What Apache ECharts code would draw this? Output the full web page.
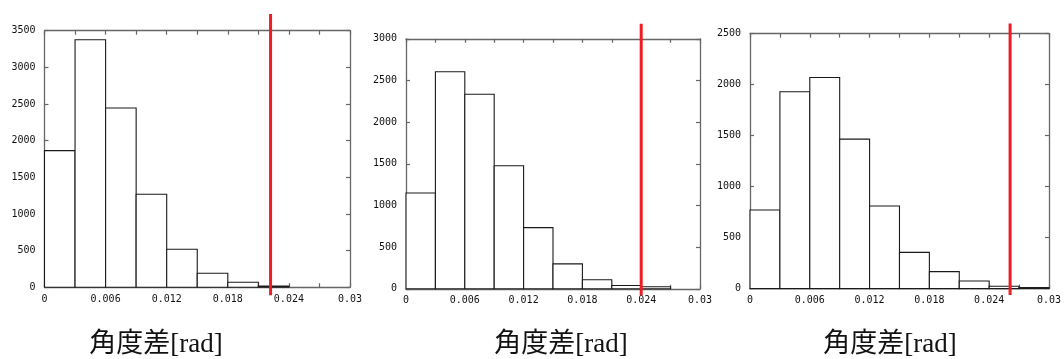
<!DOCTYPE html>
<html>
<head>
<meta charset="utf-8">
<script src="https://cdn.jsdelivr.net/npm/echarts@6/dist/echarts.min.js"></script>
<style>html,body{margin:0;padding:0;background:#fff;}#c{width:1064px;height:359px;}</style>
</head>
<body>
<div id="c"></div>
<script>
// ---- data ----
const binEdges = [0, 0.003, 0.006, 0.009, 0.012, 0.015, 0.018, 0.021, 0.024, 0.027, 0.03];
const counts1 = [1864, 3377, 2445, 1268, 518, 191, 68, 14];
const counts2 = [1149, 2605, 2334, 1476, 734, 299, 108, 40, 24];
const counts3 = [771, 1930, 2070, 1465, 810, 355, 166, 75, 23, 10];
const thresholds = [0.0222, 0.0240, 0.0261];
const redTop = [3728, 3180, 2598];
const redBottom = [-109, -76, -62];
const yMax = [3500, 3000, 2500];
const yInterval = 500;
const xMin = 0, xMax = 0.03, xInterval = 0.003;
const xTickLabels = ['0', '0.006', '0.012', '0.018', '0.024', '0.03'];
const xlabelText = '角度差[rad]';

const allCounts = [counts1, counts2, counts3];
const grids = [
  {left: 44.5, top: 30.7, width: 305.5, height: 256.5},
  {left: 406, top: 38.8, width: 294, height: 250},
  {left: 750, top: 33.6, width: 302, height: 255}
];
const titleCenters = [156, 561, 890];

const frameColor = '#666';
const tickFont = {fontFamily: "'DejaVu Sans Mono'", fontSize: 10, color: '#111'};

function frameAxis(extra) {
  return Object.assign({
    type: 'value',
    axisLine: {show: true, onZero: false, lineStyle: {color: frameColor, width: 1.3}},
    axisTick: {show: true, inside: true, length: 4, lineStyle: {color: frameColor, width: 1.2}},
    splitLine: {show: false}
  }, extra);
}

const xAxes = [], yAxes = [], series = [], graphics = [];
grids.forEach((g, i) => {
  xAxes.push(frameAxis({
    gridIndex: i, min: xMin, max: xMax, interval: xInterval, position: 'bottom',
    axisLabel: Object.assign({
      margin: 7,
      showMinLabel: true, showMaxLabel: true,
      formatter: v => {
        const k = Math.round(v / xInterval);
        return k % 2 === 0 ? (xTickLabels[k / 2] || '') : '';
      }
    }, tickFont)
  }));
  xAxes.push(frameAxis({
    gridIndex: i, min: xMin, max: xMax, interval: xInterval, position: 'top',
    axisLabel: {show: false}
  }));
  yAxes.push(frameAxis({
    gridIndex: i, min: 0, max: yMax[i], interval: yInterval, position: 'left',
    axisLabel: Object.assign({margin: 9, formatter: v => String(v)}, tickFont)
  }));
  yAxes.push(frameAxis({
    gridIndex: i, min: 0, max: yMax[i], interval: yInterval, position: 'right',
    axisLabel: {show: false}
  }));
  const data = allCounts[i].map((c, k) => [binEdges[k], binEdges[k + 1], c]);
  series.push({
    type: 'custom', xAxisIndex: 2 * i, yAxisIndex: 2 * i,
    data: data,
    renderItem: (params, api) => {
      const p0 = api.coord([api.value(0), api.value(2)]);
      const p1 = api.coord([api.value(1), 0]);
      return {
        type: 'rect',
        shape: {x: p0[0], y: p0[1], width: p1[0] - p0[0], height: p1[1] - p0[1]},
        style: {fill: '#fff', stroke: '#1a1a1a', lineWidth: 1.1}
      };
    },
    z: 2
  });
  series.push({
    type: 'line', xAxisIndex: 2 * i, yAxisIndex: 2 * i,
    data: [[thresholds[i], redTop[i]], [thresholds[i], redBottom[i]]],
    clip: false, showSymbol: false, symbol: 'none',
    lineStyle: {color: '#ee1c25', width: 3},
    z: 5, animation: false
  });
  graphics.push({
    type: 'text', x: titleCenters[i], y: 345,
    style: {
      text: xlabelText, textAlign: 'center', textVerticalAlign: 'middle',
      fontFamily: "'Liberation Serif', 'Noto Sans CJK JP', serif", fontSize: 27, fill: '#111'
    }
  });
});

const chart = echarts.init(document.getElementById('c'));
chart.setOption({
  animation: false,
  grid: grids,
  xAxis: xAxes,
  yAxis: yAxes,
  series: series,
  graphic: graphics
});
</script>
</body>
</html>
